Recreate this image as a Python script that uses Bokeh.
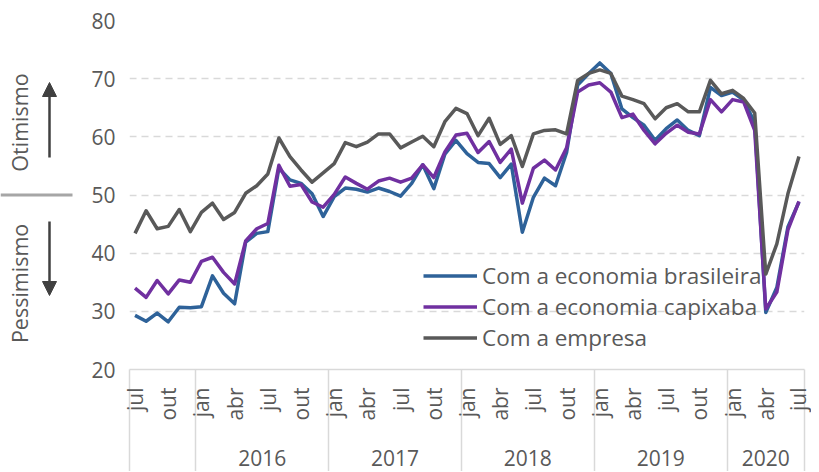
import math
from bokeh.plotting import figure
from bokeh.layouts import row
from bokeh.models import FixedTicker, LinearAxis, Range1d, Label, Arrow, NormalHead
from bokeh.embed import file_html
from bokeh.resources import INLINE

# ---------------- data ----------------
nomes_meses = ["jan", "fev", "mar", "abr", "mai", "jun", "jul", "ago", "set", "out", "nov", "dez"]
meses = nomes_meses[6:] + nomes_meses * 4 + nomes_meses[:7]          # jul/2015 .. jul/2020
anos = [2015] * 6 + [2016] * 12 + [2017] * 12 + [2018] * 12 + [2019] * 12 + [2020] * 7
anos_rotulados = ["2016", "2017", "2018", "2019", "2020"]
meses_rotulados = ["jan", "abr", "jul", "out"]

brasileira = [29.3, 28.3, 29.7, 28.2, 30.7, 30.6, 30.8, 36.1, 33.1, 31.3, 41.9, 43.4, 43.7,
              54.6, 52.6, 52.0, 50.2, 46.3, 49.7, 51.2, 51.0, 50.5, 51.2, 50.6, 49.8, 52.0,
              55.2, 51.1, 57.0, 59.4, 57.1, 55.6, 55.4, 53.0, 55.3, 43.6, 49.6, 52.9, 51.6,
              57.3, 68.9, 70.9, 72.7, 70.9, 64.8, 63.3, 62.0, 59.4, 61.4, 62.9, 61.1, 60.2,
              68.5, 67.1, 67.7, 66.3, 62.5, 29.8, 34.1, 44.5, 48.8]
capixaba = [34.0, 32.4, 35.3, 33.0, 35.4, 35.0, 38.6, 39.3, 36.7, 34.7, 42.1, 44.2, 45.1,
            55.1, 51.5, 51.8, 48.8, 47.9, 50.1, 53.1, 52.0, 51.0, 52.4, 52.9, 52.2, 52.9,
            55.2, 53.0, 57.4, 60.3, 60.6, 57.3, 59.2, 55.6, 57.9, 48.6, 54.6, 56.0, 54.3,
            58.1, 67.7, 68.9, 69.3, 67.7, 63.3, 63.9, 61.1, 58.8, 60.6, 62.0, 60.8, 60.5,
            66.4, 64.3, 66.4, 66.0, 61.1, 30.4, 33.3, 44.0, 48.9]
empresa = [43.4, 47.3, 44.2, 44.6, 47.5, 43.7, 47.0, 48.6, 45.8, 47.0, 50.3, 51.6, 53.6,
           59.8, 56.6, 54.3, 52.2, 53.8, 55.4, 59.0, 58.3, 59.1, 60.5, 60.5, 58.1, 59.1,
           60.1, 58.3, 62.6, 64.9, 64.0, 60.2, 63.2, 58.7, 60.2, 54.9, 60.5, 61.1, 61.2,
           60.5, 69.7, 70.9, 71.5, 70.9, 67.0, 66.4, 65.7, 63.1, 65.0, 65.7, 64.3, 64.3,
           69.7, 67.4, 68.0, 66.6, 64.1, 36.4, 41.6, 50.2, 56.6]
nomes_series = ["Com a economia brasileira", "Com a economia capixaba", "Com a empresa"]
cores = ["#2E6299", "#7030A0", "#595959"]
y_ticks = [20, 30, 40, 50, 60, 70, 80]
rotulos_lado = ["Otimismo", "Pessimismo"]
neutro = 50

# ---------------- derived positions ----------------
n = len(meses)
idx = list(range(n))
tick_idx = [i for i in idx if meses[i] in meses_rotulados]
separadores = [-0.5] + [i - 0.5 for i in idx[1:] if anos[i] != anos[i - 1]] + [n - 0.5]
centros = {}
for a in anos_rotulados:
    ii = [i for i in idx if str(anos[i]) == a]
    centros[a] = (ii[0] + ii[-1]) / 2

FONT = "Open Sans"
TXT = "#595959"
H = 471
TOP, BOTTOM = 20, 102
SEP_LEN = 108

# ---------------- main chart ----------------
p = figure(width=723, height=H, output_backend="svg", toolbar_location=None,
           x_range=Range1d(-0.5, n - 0.5), y_range=Range1d(y_ticks[0], y_ticks[-1]),
           x_axis_type=None, min_border_left=32, min_border_right=7,
           min_border_top=TOP, min_border_bottom=BOTTOM)
p.outline_line_color = None

p.yaxis.ticker = FixedTicker(ticks=y_ticks)
p.yaxis.axis_line_color = None
p.yaxis.major_tick_line_color = None
p.yaxis.minor_tick_line_color = None
p.yaxis.major_label_text_font = FONT
p.yaxis.major_label_text_font_size = "21px"
p.yaxis.major_label_text_color = TXT
p.yaxis.major_label_standoff = 8
p.ygrid.ticker = FixedTicker(ticks=y_ticks[1:])
p.ygrid.grid_line_color = "#d9d9d9"
p.ygrid.grid_line_dash = "7 5"
p.ygrid.grid_line_width = 1.3

# month axis (minor ticks = year separators running to the bottom)
ax_m = LinearAxis(
    ticker=FixedTicker(ticks=tick_idx, minor_ticks=separadores),
    major_label_overrides={i: meses[i] for i in tick_idx},
    major_label_orientation=math.pi / 2,
    major_tick_in=0, major_tick_out=0,
    minor_tick_in=0, minor_tick_out=SEP_LEN,
    minor_tick_line_color="#d9d9d9", minor_tick_line_width=1.5,
    axis_line_color="#d9d9d9", axis_line_width=1.5,
    major_label_standoff=18 - SEP_LEN,
    major_label_text_font=FONT, major_label_text_font_size="21px",
    major_label_text_color=TXT,
)
p.add_layout(ax_m, "below")

# year axis
ax_a = LinearAxis(
    ticker=FixedTicker(ticks=[centros[a] for a in anos_rotulados], minor_ticks=[]),
    major_label_overrides={centros[a]: a for a in anos_rotulados},
    axis_line_color=None, major_tick_line_color=None, minor_tick_line_color=None,
    major_tick_in=0, major_tick_out=0,
    major_label_standoff=26,
    major_label_text_font=FONT, major_label_text_font_size="21px",
    major_label_text_color=TXT,
)
p.add_layout(ax_a, "below")

for vals, nome, cor in zip([brasileira, capixaba, empresa], nomes_series, cores):
    p.line(idx, vals, line_color=cor, line_width=3.5, legend_label=nome, line_join="round")

lg = p.legend[0]
lg.location = (294, 16)
lg.padding = 0
lg.margin = 0
lg.spacing = 0
lg.label_height = 31
lg.glyph_height = 31
lg.glyph_width = 54
lg.label_standoff = 5
lg.border_line_alpha = 0
lg.background_fill_alpha = 0
lg.label_text_font = FONT
lg.label_text_font_size = "22.5px"
lg.label_text_color = TXT

# ---------------- left strip: optimism / pessimism guide ----------------
s = figure(width=88, height=H, output_backend="svg", toolbar_location=None,
           x_range=Range1d(0, 88), y_range=Range1d(y_ticks[0], y_ticks[-1]),
           x_axis_type=None, y_axis_type=None, min_border_left=0, min_border_right=0,
           min_border_top=TOP, min_border_bottom=BOTTOM)
s.outline_line_color = None
s.grid.visible = False

s.add_layout(Label(x=19, y=62.46, text=rotulos_lado[0], angle=math.pi / 2,
                   text_align="center", text_baseline="middle", text_font=FONT,
                   text_font_size="21.5px", text_color=TXT))
s.add_layout(Label(x=19, y=34.8, text=rotulos_lado[1], angle=math.pi / 2,
                   text_align="center", text_baseline="middle", text_font=FONT,
                   text_font_size="21.5px", text_color=TXT))
s.add_layout(Arrow(x_start=49, y_start=56.45, x_end=49, y_end=69.34,
                   end=NormalHead(size=14, fill_color="#404040", line_color="#404040"),
                   line_color="#404040", line_width=2.5))
s.add_layout(Arrow(x_start=49, y_start=45.44, x_end=49, y_end=32.72,
                   end=NormalHead(size=14, fill_color="#404040", line_color="#404040"),
                   line_color="#404040", line_width=2.5))
s.add_layout(Arrow(x_start=0, y_start=neutro, x_end=72, y_end=neutro, end=None,
                   line_color="#a6a6a6", line_width=3))

layout = row(s, p)
open("out.html", "w").write(file_html(layout, INLINE))
